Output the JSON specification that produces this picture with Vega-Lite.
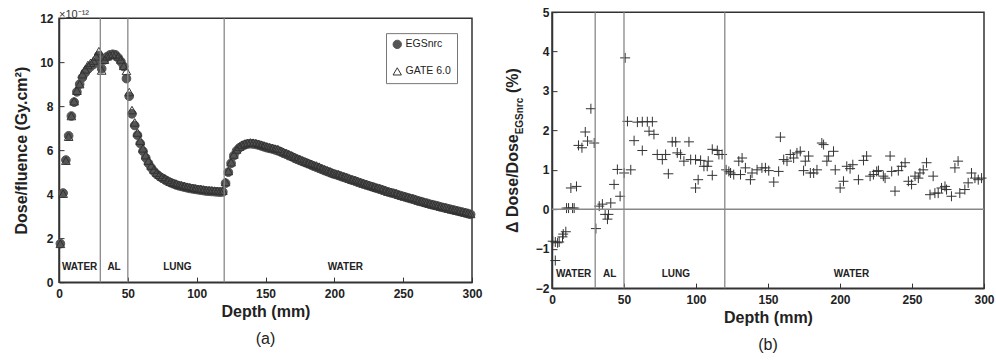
{
  "$schema": "https://vega.github.io/schema/vega-lite/v6.json",
  "padding": {"left": 12, "top": 4, "right": 0, "bottom": 0},
  "background": "white",
  "spacing": 21,
  "center": true,
  "resolve": {"scale": {"shape": "independent", "fill": "independent", "stroke": "independent"}, "legend": {"shape": "independent", "fill": "independent", "stroke": "independent"}},
  "config": {
    "font": "Liberation Sans",
    "view": {"stroke": "#333", "strokeWidth": 1.5},
    "axis": {
      "grid": false, "domainColor": "#333", "domainWidth": 1.5, "labelFlush": false,
      "tickColor": "#333", "tickSize": -5, "tickWidth": 1,
      "labelFont": "Liberation Sans", "labelFontWeight": "bold", "labelFontSize": 12, "labelColor": "#222",
      "titleFont": "Liberation Sans", "titleFontSize": 16, "titleFontWeight": "bold", "titleColor": "#222"
    },
    "axisX": {"labelPadding": 11, "titlePadding": 4},
    "axisY": {"labelPadding": 11, "titlePadding": 10},
    "legend": {"labelFont": "Liberation Sans", "labelFontSize": 10.5, "labelColor": "#222"}
  },
  "datasets": {
    "dose": [
      {"d":1,"EGSnrc":1.75,"GATE":1.74},{"d":3,"EGSnrc":4.05,"GATE":4.02},{"d":5,"EGSnrc":5.55,"GATE":5.52},{"d":7,"EGSnrc":6.65,"GATE":6.61},
      {"d":9,"EGSnrc":7.55,"GATE":7.55},{"d":11,"EGSnrc":8.18,"GATE":8.22},{"d":13,"EGSnrc":8.65,"GATE":8.70},{"d":15,"EGSnrc":9.00,"GATE":9.00},
      {"d":17,"EGSnrc":9.30,"GATE":9.45},{"d":19,"EGSnrc":9.52,"GATE":9.67},{"d":21,"EGSnrc":9.68,"GATE":9.87},{"d":23,"EGSnrc":9.80,"GATE":9.97},
      {"d":25,"EGSnrc":9.90,"GATE":10.07},{"d":27,"EGSnrc":10.00,"GATE":10.26},{"d":29,"EGSnrc":10.30,"GATE":10.50},{"d":31,"EGSnrc":9.70,"GATE":9.62},
      {"d":33,"EGSnrc":10.10,"GATE":10.11},{"d":35,"EGSnrc":10.25,"GATE":10.26},{"d":37,"EGSnrc":10.33,"GATE":10.31},{"d":39,"EGSnrc":10.36,"GATE":10.35},
      {"d":41,"EGSnrc":10.33,"GATE":10.35},{"d":43,"EGSnrc":10.20,"GATE":10.26},{"d":45,"EGSnrc":10.02,"GATE":10.12},{"d":47,"EGSnrc":9.80,"GATE":9.83},
      {"d":49,"EGSnrc":9.25,"GATE":9.60},{"d":51,"EGSnrc":8.45,"GATE":8.64},{"d":53,"EGSnrc":7.65,"GATE":7.82},{"d":55,"EGSnrc":7.12,"GATE":7.26},
      {"d":57,"EGSnrc":6.68,"GATE":6.80},{"d":59,"EGSnrc":6.30,"GATE":6.43},{"d":61,"EGSnrc":5.95,"GATE":6.08},{"d":63,"EGSnrc":5.65,"GATE":5.77},
      {"d":65,"EGSnrc":5.40,"GATE":5.52},{"d":67,"EGSnrc":5.20,"GATE":5.30},{"d":69,"EGSnrc":5.03,"GATE":5.12},{"d":71,"EGSnrc":4.90,"GATE":4.98},
      {"d":73,"EGSnrc":4.80,"GATE":4.88},{"d":75,"EGSnrc":4.72,"GATE":4.79},{"d":77,"EGSnrc":4.65,"GATE":4.72},{"d":79,"EGSnrc":4.58,"GATE":4.64},
      {"d":81,"EGSnrc":4.52,"GATE":4.57},{"d":83,"EGSnrc":4.47,"GATE":4.52},{"d":85,"EGSnrc":4.42,"GATE":4.48},{"d":87,"EGSnrc":4.38,"GATE":4.43},
      {"d":89,"EGSnrc":4.35,"GATE":4.40},{"d":91,"EGSnrc":4.32,"GATE":4.37},{"d":93,"EGSnrc":4.29,"GATE":4.34},{"d":95,"EGSnrc":4.26,"GATE":4.31},
      {"d":97,"EGSnrc":4.24,"GATE":4.29},{"d":99,"EGSnrc":4.22,"GATE":4.26},{"d":101,"EGSnrc":4.20,"GATE":4.24},{"d":103,"EGSnrc":4.18,"GATE":4.23},
      {"d":105,"EGSnrc":4.16,"GATE":4.21},{"d":107,"EGSnrc":4.14,"GATE":4.19},{"d":109,"EGSnrc":4.13,"GATE":4.18},{"d":111,"EGSnrc":4.12,"GATE":4.17},
      {"d":113,"EGSnrc":4.11,"GATE":4.16},{"d":115,"EGSnrc":4.10,"GATE":4.15},{"d":117,"EGSnrc":4.09,"GATE":4.14},{"d":119,"EGSnrc":4.10,"GATE":4.15},
      {"d":121,"EGSnrc":4.50,"GATE":4.55},{"d":123,"EGSnrc":5.00,"GATE":5.05},{"d":125,"EGSnrc":5.40,"GATE":5.45},{"d":127,"EGSnrc":5.75,"GATE":5.80},
      {"d":129,"EGSnrc":5.97,"GATE":6.03},{"d":131,"EGSnrc":6.10,"GATE":6.16},{"d":133,"EGSnrc":6.18,"GATE":6.25},{"d":135,"EGSnrc":6.24,"GATE":6.30},
      {"d":137,"EGSnrc":6.28,"GATE":6.33},{"d":139,"EGSnrc":6.29,"GATE":6.35},{"d":141,"EGSnrc":6.28,"GATE":6.34},{"d":143,"EGSnrc":6.26,"GATE":6.32},
      {"d":145,"EGSnrc":6.23,"GATE":6.29},{"d":147,"EGSnrc":6.19,"GATE":6.25},{"d":149,"EGSnrc":6.15,"GATE":6.21},{"d":151,"EGSnrc":6.11,"GATE":6.17},
      {"d":153,"EGSnrc":6.08,"GATE":6.13},{"d":155,"EGSnrc":6.05,"GATE":6.10},{"d":157,"EGSnrc":6.01,"GATE":6.07},{"d":159,"EGSnrc":5.97,"GATE":6.05},
      {"d":161,"EGSnrc":5.92,"GATE":5.98},{"d":163,"EGSnrc":5.86,"GATE":5.92},{"d":165,"EGSnrc":5.81,"GATE":5.87},{"d":167,"EGSnrc":5.75,"GATE":5.82},
      {"d":169,"EGSnrc":5.70,"GATE":5.76},{"d":171,"EGSnrc":5.64,"GATE":5.70},{"d":173,"EGSnrc":5.58,"GATE":5.63},{"d":175,"EGSnrc":5.53,"GATE":5.59},
      {"d":177,"EGSnrc":5.48,"GATE":5.53},{"d":179,"EGSnrc":5.43,"GATE":5.48},{"d":181,"EGSnrc":5.38,"GATE":5.43},{"d":183,"EGSnrc":5.33,"GATE":5.38},
      {"d":185,"EGSnrc":5.27,"GATE":5.33},{"d":187,"EGSnrc":5.22,"GATE":5.30},{"d":189,"EGSnrc":5.17,"GATE":5.25},{"d":191,"EGSnrc":5.12,"GATE":5.18},
      {"d":193,"EGSnrc":5.07,"GATE":5.13},{"d":195,"EGSnrc":5.02,"GATE":5.08},{"d":197,"EGSnrc":4.98,"GATE":5.03},{"d":199,"EGSnrc":4.93,"GATE":4.96},
      {"d":201,"EGSnrc":4.89,"GATE":4.92},{"d":203,"EGSnrc":4.85,"GATE":4.90},{"d":205,"EGSnrc":4.80,"GATE":4.85},{"d":207,"EGSnrc":4.76,"GATE":4.81},
      {"d":209,"EGSnrc":4.72,"GATE":4.77},{"d":211,"EGSnrc":4.67,"GATE":4.71},{"d":213,"EGSnrc":4.63,"GATE":4.67},{"d":215,"EGSnrc":4.59,"GATE":4.64},
      {"d":217,"EGSnrc":4.54,"GATE":4.60},{"d":219,"EGSnrc":4.50,"GATE":4.55},{"d":221,"EGSnrc":4.46,"GATE":4.50},{"d":223,"EGSnrc":4.42,"GATE":4.46},
      {"d":225,"EGSnrc":4.38,"GATE":4.42},{"d":227,"EGSnrc":4.34,"GATE":4.38},{"d":229,"EGSnrc":4.30,"GATE":4.34},{"d":231,"EGSnrc":4.26,"GATE":4.29},
      {"d":233,"EGSnrc":4.22,"GATE":4.27},{"d":235,"EGSnrc":4.18,"GATE":4.23},{"d":237,"EGSnrc":4.14,"GATE":4.18},{"d":239,"EGSnrc":4.10,"GATE":4.12},
      {"d":241,"EGSnrc":4.06,"GATE":4.10},{"d":243,"EGSnrc":4.03,"GATE":4.07},{"d":245,"EGSnrc":3.99,"GATE":4.04},{"d":247,"EGSnrc":3.95,"GATE":3.98},
      {"d":249,"EGSnrc":3.91,"GATE":3.94},{"d":251,"EGSnrc":3.88,"GATE":3.91},{"d":253,"EGSnrc":3.84,"GATE":3.87},{"d":255,"EGSnrc":3.80,"GATE":3.84},
      {"d":257,"EGSnrc":3.77,"GATE":3.81},{"d":259,"EGSnrc":3.73,"GATE":3.77},{"d":261,"EGSnrc":3.69,"GATE":3.72},{"d":263,"EGSnrc":3.66,"GATE":3.68},
      {"d":265,"EGSnrc":3.62,"GATE":3.65},{"d":267,"EGSnrc":3.59,"GATE":3.61},{"d":269,"EGSnrc":3.55,"GATE":3.57},{"d":271,"EGSnrc":3.52,"GATE":3.54},
      {"d":273,"EGSnrc":3.49,"GATE":3.51},{"d":275,"EGSnrc":3.46,"GATE":3.48},{"d":277,"EGSnrc":3.42,"GATE":3.44},{"d":279,"EGSnrc":3.39,"GATE":3.42},
      {"d":281,"EGSnrc":3.36,"GATE":3.40},{"d":283,"EGSnrc":3.33,"GATE":3.35},{"d":285,"EGSnrc":3.30,"GATE":3.32},{"d":287,"EGSnrc":3.27,"GATE":3.29},
      {"d":289,"EGSnrc":3.24,"GATE":3.26},{"d":291,"EGSnrc":3.21,"GATE":3.24},{"d":293,"EGSnrc":3.18,"GATE":3.20},{"d":295,"EGSnrc":3.15,"GATE":3.17},
      {"d":297,"EGSnrc":3.12,"GATE":3.14},{"d":299,"EGSnrc":3.08,"GATE":3.10}
    ],
    "diff": [
      {"d":0.5,"p":-0.81},{"d":2.3,"p":-1.3},{"d":2.3,"p":-0.83},{"d":3.9,"p":-0.85},{"d":5.0,"p":-0.83},{"d":7.3,"p":-0.7},{"d":7.8,"p":-0.63},{"d":9.6,"p":-0.57},
      {"d":10.1,"p":0.03},{"d":11.5,"p":0.03},{"d":13.1,"p":0.54},{"d":14.3,"p":0.03},{"d":15.4,"p":0.03},{"d":17.0,"p":0.58},{"d":18.4,"p":1.62},{"d":20.8,"p":1.56},
      {"d":23.1,"p":1.96},{"d":24.7,"p":1.73},{"d":27.0,"p":2.55},{"d":29.3,"p":1.68},
      {"d":30.5,"p":-0.49},{"d":32.8,"p":0.08},{"d":35.0,"p":0.13},{"d":36.9,"p":-0.13},{"d":38.5,"p":-0.25},{"d":39.2,"p":-0.13},{"d":40.8,"p":0.16},{"d":43.1,"p":0.63},
      {"d":45.4,"p":1.01},{"d":47.3,"p":0.33},{"d":50.1,"p":0.92},{"d":50.8,"p":3.84},
      {"d":52.4,"p":2.23},{"d":54.7,"p":1.0},{"d":57.0,"p":1.74},{"d":59.3,"p":2.21},{"d":62.7,"p":1.49},{"d":62.7,"p":2.22},{"d":66.2,"p":2.22},{"d":67.4,"p":1.98},
      {"d":69.7,"p":2.22},{"d":70.8,"p":1.9},{"d":73.1,"p":1.39},{"d":76.6,"p":1.26},{"d":78.9,"p":1.39},{"d":80.8,"p":0.9},{"d":83.5,"p":1.71},{"d":85.9,"p":1.71},
      {"d":87.0,"p":1.43},{"d":89.3,"p":1.39},{"d":91.6,"p":1.22},{"d":95.1,"p":1.71},{"d":96.3,"p":1.26},{"d":99.7,"p":1.26},{"d":99.7,"p":0.54},{"d":101.5,"p":0.75},
      {"d":103.2,"p":1.24},{"d":105.5,"p":1.09},{"d":107.8,"p":1.09},{"d":108.5,"p":1.22},{"d":111.3,"p":0.86},{"d":111.3,"p":1.52},{"d":114.8,"p":1.49},{"d":115.9,"p":1.39},
      {"d":118.1,"p":1.39},
      {"d":120.9,"p":1.0},{"d":122.8,"p":0.96},{"d":124.0,"p":0.92},{"d":126.2,"p":0.88},{"d":129.7,"p":1.22},{"d":130.9,"p":0.88},{"d":132.0,"p":1.3},{"d":134.3,"p":1.05},
      {"d":137.8,"p":0.75},{"d":138.9,"p":0.92},{"d":142.4,"p":1.0},{"d":145.8,"p":1.05},{"d":148.2,"p":1.05},
      {"d":150.5,"p":0.98},{"d":154.0,"p":0.69},{"d":157.4,"p":0.96},{"d":158.6,"p":1.83},{"d":160.9,"p":1.26},{"d":163.2,"p":1.22},{"d":165.5,"p":1.39},{"d":167.8,"p":1.3},
      {"d":170.1,"p":1.43},{"d":172.4,"p":1.47},{"d":174.7,"p":0.98},{"d":175.9,"p":1.22},{"d":178.2,"p":1.35},{"d":179.4,"p":0.92},{"d":181.7,"p":0.92},{"d":184.0,"p":1.0},
      {"d":187.4,"p":1.68},{"d":188.6,"p":1.64},{"d":190.9,"p":1.22},{"d":192.1,"p":1.35},{"d":195.5,"p":1.47},{"d":196.7,"p":1.0},{"d":200.1,"p":0.54},{"d":202.4,"p":0.71},
      {"d":204.7,"p":1.09},{"d":207.0,"p":1.03},{"d":208.9,"p":1.13},{"d":212.8,"p":0.75},{"d":216.3,"p":1.24},{"d":218.5,"p":1.35},{"d":220.9,"p":0.84},{"d":223.2,"p":0.88},
      {"d":225.5,"p":0.96},{"d":226.7,"p":0.98},{"d":230.1,"p":0.84},{"d":231.3,"p":0.79},{"d":234.8,"p":1.35},{"d":235.9,"p":0.96},{"d":238.2,"p":0.46},{"d":240.5,"p":0.98},
      {"d":242.8,"p":1.09},{"d":245.2,"p":1.18},{"d":247.5,"p":0.71},{"d":249.7,"p":0.63},{"d":252.1,"p":0.84},{"d":254.4,"p":0.79},{"d":255.5,"p":0.92},{"d":257.8,"p":1.0},
      {"d":260.1,"p":1.18},{"d":262.5,"p":0.37},{"d":264.7,"p":0.84},{"d":265.9,"p":0.41},{"d":268.2,"p":0.41},{"d":270.5,"p":0.54},{"d":272.9,"p":0.58},{"d":274.0,"p":0.5},
      {"d":277.4,"p":0.33},{"d":279.8,"p":1.05},{"d":282.0,"p":1.22},{"d":283.2,"p":0.41},{"d":286.7,"p":0.5},{"d":289.0,"p":0.67},{"d":291.3,"p":0.92},{"d":293.7,"p":0.79},
      {"d":296.0,"p":0.75},{"d":298.3,"p":0.79}
    ],
    "bounds": [{"b":30},{"b":50},{"b":120}],
    "regions": [{"t":"WATER","c":15},{"t":"AL","c":40},{"t":"LUNG","c":86},{"t":"WATER","c":208}]
  },
  "hconcat": [
    {
      "width": 413, "height": 264,
      "title": {"text": "(a)", "orient": "bottom", "fontSize": 16, "fontWeight": "normal", "font": "Liberation Sans", "color": "#222", "offset": 12},
      "layer": [
        {
          "data": {"name": "dose"},
          "transform": [{"fold": ["EGSnrc", "GATE"], "as": ["key", "val"]}],
          "mark": {"type": "point", "size": 75, "strokeWidth": 1, "opacity": 1},
          "encoding": {
            "x": {"field": "d", "type": "quantitative", "scale": {"domain": [0, 300], "nice": false},
                  "axis": {"values": [0, 50, 100, 150, 200, 250, 300], "title": "Depth (mm)"}},
            "y": {"field": "val", "type": "quantitative", "scale": {"domain": [0, 12], "nice": false},
                  "axis": {"values": [0, 2, 4, 6, 8, 10, 12], "title": "Dose/fluence (Gy.cm²)"}},
            "shape": {"field": "key", "type": "nominal", "scale": {"domain": ["EGSnrc", "GATE"], "range": ["circle", "triangle-up"]},
                      "legend": {"title": null, "orient": "top-right", "offset": 15, "strokeColor": "#777", "padding": 6, "rowPadding": 14,
                                 "symbolSize": 70, "symbolStrokeWidth": 1, "labelOffset": 3,
                                 "labelExpr": "datum.label == 'GATE' ? 'GATE 6.0' : datum.label",
                                 "encode": {"symbols": {"update": {
                                   "fill": {"signal": "datum.value == 'EGSnrc' ? '#555' : 'transparent'"},
                                   "stroke": {"signal": "datum.value == 'EGSnrc' ? '#555' : '#333'"},
                                   "opacity": {"value": 1}}}}}},
            "fill": {"field": "key", "type": "nominal", "scale": {"domain": ["EGSnrc", "GATE"], "range": ["#555", "transparent"]}, "legend": null},
            "stroke": {"field": "key", "type": "nominal", "scale": {"domain": ["EGSnrc", "GATE"], "range": ["#555", "#333"]}, "legend": null},
            "order": {"field": "key"}
          }
        },
        {
          "data": {"name": "bounds"},
          "mark": {"type": "rule", "color": "#888", "strokeWidth": 1.3},
          "encoding": {"x": {"field": "b", "type": "quantitative", "axis": {"values": [0, 50, 100, 150, 200, 250, 300], "title": "Depth (mm)"}}}
        },
        {
          "data": {"name": "regions"},
          "mark": {"type": "text", "fontSize": 10, "fontWeight": "bold", "color": "#222", "font": "Liberation Sans"},
          "encoding": {
            "x": {"field": "c", "type": "quantitative", "axis": {"values": [0, 50, 100, 150, 200, 250, 300], "title": "Depth (mm)"}},
            "y": {"datum": 0.7, "type": "quantitative", "axis": {"values": [0, 2, 4, 6, 8, 10, 12], "title": "Dose/fluence (Gy.cm²)"}},
            "text": {"field": "t"}
          }
        },
        {
          "data": {"values": [{}]},
          "mark": {"type": "text", "text": ["", "×10⁻¹²"], "lineHeight": 4, "fontSize": 11, "align": "left", "baseline": "bottom", "dy": -2, "color": "#333", "font": "Liberation Sans"},
          "encoding": {
            "x": {"datum": 0, "type": "quantitative", "axis": {"values": [0, 50, 100, 150, 200, 250, 300], "title": "Depth (mm)"}},
            "y": {"datum": 12, "type": "quantitative", "axis": {"values": [0, 2, 4, 6, 8, 10, 12], "title": "Dose/fluence (Gy.cm²)"}}
          }
        }
      ]
    },
    {
      "width": 432, "height": 276,
      "title": {"text": "(b)", "orient": "bottom", "fontSize": 16, "fontWeight": "normal", "font": "Liberation Sans", "color": "#222", "offset": 12},
      "layer": [
        {
          "data": {"name": "diff"},
          "mark": {"type": "point", "shape": "M-1,0L1,0M0,-1L0,1", "size": 100, "filled": false, "stroke": "#333", "strokeWidth": 1, "opacity": 1},
          "encoding": {
            "x": {"field": "d", "type": "quantitative", "scale": {"domain": [0, 300], "nice": false},
                  "axis": {"values": [0, 50, 100, 150, 200, 250, 300], "title": "Depth (mm)"}},
            "y": {"field": "p", "type": "quantitative", "scale": {"domain": [-2, 5], "nice": false},
                  "axis": {"values": [-2, -1, 0, 1, 2, 3, 4, 5], "title": null, "labelPadding": 8}}
          }
        },
        {
          "data": {"name": "bounds"},
          "mark": {"type": "rule", "color": "#888", "strokeWidth": 1.3},
          "encoding": {"x": {"field": "b", "type": "quantitative", "axis": {"values": [0, 50, 100, 150, 200, 250, 300], "title": "Depth (mm)"}}}
        },
        {
          "data": {"values": [{}]},
          "mark": {"type": "rule", "color": "#888", "strokeWidth": 1.5},
          "encoding": {"y": {"datum": 0, "type": "quantitative", "axis": {"values": [-2, -1, 0, 1, 2, 3, 4, 5], "title": null, "labelPadding": 8}}}
        },
        {
          "data": {"name": "regions"},
          "mark": {"type": "text", "fontSize": 10, "fontWeight": "bold", "color": "#222", "font": "Liberation Sans"},
          "encoding": {
            "x": {"field": "c", "type": "quantitative", "axis": {"values": [0, 50, 100, 150, 200, 250, 300], "title": "Depth (mm)"}},
            "y": {"datum": -1.65, "type": "quantitative", "axis": {"values": [-2, -1, 0, 1, 2, 3, 4, 5], "title": null, "labelPadding": 8}},
            "text": {"field": "t"}
          }
        },
        {
          "data": {"values": [{}]},
          "mark": {"type": "text", "text": "Δ Dose/Dose", "angle": 270, "align": "left", "baseline": "middle", "fontSize": 16, "fontWeight": "bold", "color": "#222", "font": "Liberation Sans"},
          "encoding": {"x": {"datum": -26.8, "type": "quantitative", "axis": {"values": [0, 50, 100, 150, 200, 250, 300], "title": "Depth (mm)"}},
                       "y": {"datum": -0.6, "type": "quantitative", "axis": {"values": [-2, -1, 0, 1, 2, 3, 4, 5], "title": null, "labelPadding": 8}}}
        },
        {
          "data": {"values": [{}]},
          "mark": {"type": "text", "text": "EGSnrc", "angle": 270, "align": "left", "baseline": "middle", "fontSize": 10, "fontWeight": "bold", "color": "#222", "font": "Liberation Sans"},
          "encoding": {"x": {"datum": -22.5, "type": "quantitative", "axis": {"values": [0, 50, 100, 150, 200, 250, 300], "title": "Depth (mm)"}},
                       "y": {"datum": 1.9, "type": "quantitative", "axis": {"values": [-2, -1, 0, 1, 2, 3, 4, 5], "title": null, "labelPadding": 8}}}
        },
        {
          "data": {"values": [{}]},
          "mark": {"type": "text", "text": "(%)", "angle": 270, "align": "left", "baseline": "middle", "fontSize": 16, "fontWeight": "bold", "color": "#222", "font": "Liberation Sans"},
          "encoding": {"x": {"datum": -26.8, "type": "quantitative", "axis": {"values": [0, 50, 100, 150, 200, 250, 300], "title": "Depth (mm)"}},
                       "y": {"datum": 2.95, "type": "quantitative", "axis": {"values": [-2, -1, 0, 1, 2, 3, 4, 5], "title": null, "labelPadding": 8}}}
        }
      ]
    }
  ]
}
